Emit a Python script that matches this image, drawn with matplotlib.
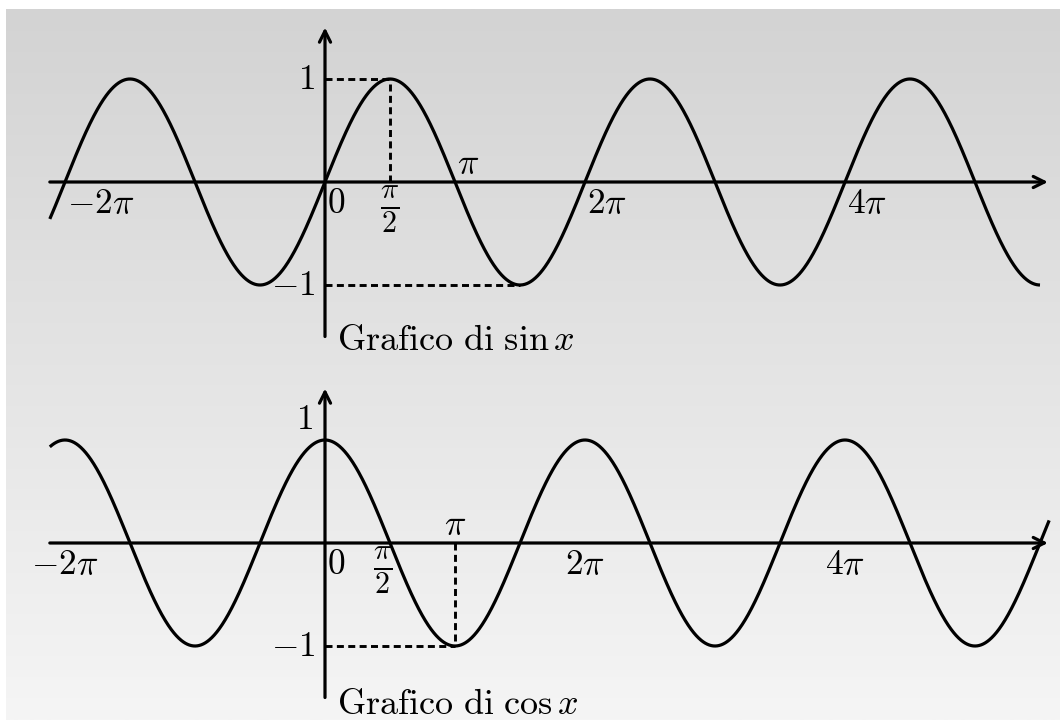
import numpy as np
import matplotlib
matplotlib.use("Agg")
import matplotlib.pyplot as plt
from matplotlib.colors import LinearSegmentedColormap
from matplotlib.transforms import offset_copy

plt.rcParams["mathtext.fontset"] = "cm"

PI = np.pi

# function domains
sin_domain = (-6.65, 5.5 * PI)
cos_domain = (-6.65, 17.5)
axis_x = (-6.65, 17.47)
axis_y = (-1.5, 1.5)

# tick labels: (x value, text)
sin_ticks = [(-2 * PI, r"$-2\pi$"), (0, r"$0$"), (2 * PI, r"$2\pi$"), (4 * PI, r"$4\pi$")]
cos_ticks = [(-2 * PI, r"$-2\pi$"), (2 * PI, r"$2\pi$"), (4 * PI, r"$4\pi$")]

W, H, DPI = 1060, 720, 100
FS = 25.5
LW = 2.3

fig = plt.figure(figsize=(W / DPI, H / DPI), dpi=DPI)
fig.patch.set_facecolor("white")

# background gradient panel
bg = fig.add_axes([6 / W, 0, 1 - 6 / W, 711 / H], zorder=0)
cmap = LinearSegmentedColormap.from_list("bg", ["#f5f5f5", "#d3d3d3"])
grad = np.linspace(0, 1, 256).reshape(-1, 1)
bg.imshow(grad, aspect="auto", cmap=cmap, origin="lower", extent=[0, 1, 0, 1])
bg.axis("off")

px = 130 / PI  # pixels per radian
xlim = (-325 / px, (W - 325) / px)


def make_axes(bottom_px, origin_px):
    ax = fig.add_axes([0, bottom_px / H, 1, 360 / H], zorder=1)
    ax.set_xlim(*xlim)
    ax.set_ylim((bottom_px - origin_px) / 103, (bottom_px + 360 - origin_px) / 103)
    ax.patch.set_visible(False)
    ax.axis("off")
    return ax


def arrows(ax):
    kw = dict(arrowstyle="->", lw=LW, color="black", shrinkA=0, shrinkB=0,
              mutation_scale=20)
    ax.annotate("", xy=(axis_x[1], 0), xytext=(axis_x[0], 0), arrowprops=kw)
    ax.annotate("", xy=(0, axis_y[1]), xytext=(0, axis_y[0]), arrowprops=kw)


def label(ax, x, y, s, dx=0, dy=0, ha="center", va="center", size=FS):
    tr = offset_copy(ax.transData, fig=fig, x=dx, y=dy, units="dots")
    ax.text(x, y, s, transform=tr, ha=ha, va=va, fontsize=size, color="black")


dash = dict(color="black", lw=2.1, linestyle=(0, (2.4, 1.5)))
FRAC = r"$\frac{\pi}{2}$"
FRAC_FS = 31

# ---- sine ----
ax1 = make_axes(360, H - 182)
arrows(ax1)
xs = np.linspace(*sin_domain, 2000)
ax1.plot(xs, np.sin(xs), color="black", lw=LW, solid_capstyle="butt")
ax1.plot([0, PI / 2], [1, 1], **dash)
ax1.plot([PI / 2, PI / 2], [0, 1], **dash)
ax1.plot([0, 3 * PI / 2], [-1, -1], **dash)
for xv, s in sin_ticks:
    label(ax1, xv, 0, s, dx=2, dy=-4, ha="left", va="top")
label(ax1, PI / 2, 0, FRAC, dy=-2, va="top", size=FRAC_FS)
label(ax1, PI, 0, r"$\pi$", dx=2, dy=2, ha="left", va="bottom")
label(ax1, 0, 1, r"$1$", dx=-10, ha="right")
label(ax1, 0, -1, r"$-1$", dx=-10, ha="right")
label(ax1, 0, axis_y[0], r"$\mathrm{Grafico\ di}\ \sin x$", dx=12, dy=-4, ha="left", size=26)

# ---- cosine ----
ax2 = make_axes(0, H - 543)
arrows(ax2)
xc = np.linspace(*cos_domain, 2000)
ax2.plot(xc, np.cos(xc), color="black", lw=LW, solid_capstyle="butt")
ax2.plot([PI, PI], [0, -1], **dash)
ax2.plot([0, PI], [-1, -1], **dash)
for xv, s in cos_ticks:
    label(ax2, xv, 0, s, dy=-4, va="top")
label(ax2, 0, 0, r"$0$", dx=2, dy=-4, ha="left", va="top")
label(ax2, PI / 2, 0, FRAC, dx=-7, dy=-2, va="top", size=FRAC_FS)
label(ax2, PI, 0, r"$\pi$", dy=2, va="bottom")
label(ax2, 0, 1, r"$1$", dx=-12, dy=4, ha="right", va="bottom")
label(ax2, 0, -1, r"$-1$", dx=-10, ha="right")
label(ax2, 0, axis_y[0], r"$\mathrm{Grafico\ di}\ \cos x$", dx=12, dy=-6, ha="left", size=26)

fig.savefig("out.png", dpi=DPI)
